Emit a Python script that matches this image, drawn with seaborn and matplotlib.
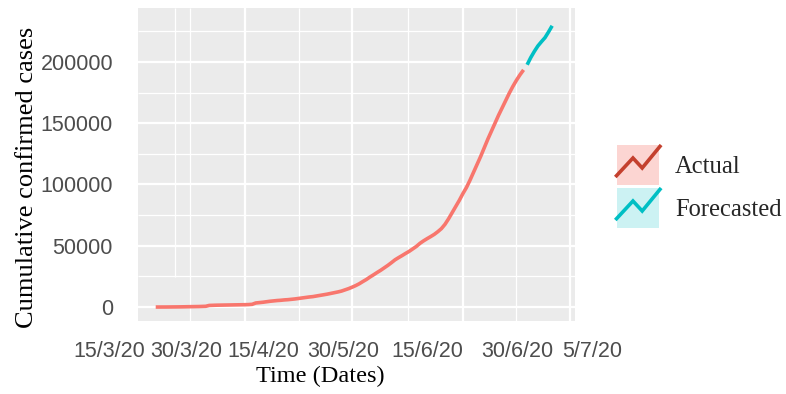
import numpy as np
import pandas as pd
import matplotlib
matplotlib.use("Agg")
import matplotlib.pyplot as plt
import matplotlib.dates as mdates
import seaborn as sns
from matplotlib.legend_handler import HandlerBase
from matplotlib.patches import Rectangle
from matplotlib.lines import Line2D
from matplotlib.ticker import FixedLocator, NullFormatter, MultipleLocator, FuncFormatter

# ---------------- data ----------------
actual_start = "2020-03-07"
actual_cases = [
    0, 0, 10, 20, 50, 80, 110, 140, 190, 250,
    300, 350, 400, 500, 600, 1300, 1400, 1500, 1550, 1600,
    1650, 1700, 1750, 1800, 1850, 1900, 2000, 2200, 3300, 3600,
    3900, 4300, 4700, 5000, 5300, 5500, 5800, 6000, 6300, 6600,
    7000, 7400, 7800, 8200, 8500, 9000, 9500, 10000, 10500, 11100,
    11700, 12300, 13000, 14000, 15000, 16200, 17500, 19000, 20800, 22500,
    24500, 26300, 28200, 30000, 32000, 34000, 36200, 38500, 40300, 42000,
    43800, 45500, 47500, 49500, 52000, 54000, 55800, 57500, 59300, 61500,
    64000, 67500, 72000, 77000, 82000, 87000, 92500, 97500, 103500, 110000,
    116500, 123000, 130000, 137000, 143500, 150000, 156500, 162500, 168500, 174500,
    180000, 185000, 189500, 193500,
]
forecast_start = "2020-06-19"
forecast_cases = [197700, 203500, 208500, 213000, 216500, 219800, 224500, 229500]

series_names = ["Actual", "Forecasted"]
x_tick_dates = ["2020-04-01", "2020-05-01", "2020-06-01", "2020-07-01"]
x_labels = ["15/3/20", "30/3/20", "15/4/20", "30/5/20", "15/6/20", "30/6/20", "5/7/20"]
y_ticks = [0, 50000, 100000, 150000, 200000]
x_title = "Time (Dates)"
y_title = "Cumulative confirmed cases"

# layout (days relative to 1 Apr 2020 where the x label texts sit)
label_day_offsets = [-38.1, -16.5, 5.0, 27.4, 51.0, 76.2, 97.2]

df = pd.concat([
    pd.DataFrame({"date": pd.date_range(actual_start, periods=len(actual_cases), freq="D"),
                  "cases": actual_cases, "type": series_names[0]}),
    pd.DataFrame({"date": pd.date_range(forecast_start, periods=len(forecast_cases), freq="D"),
                  "cases": forecast_cases, "type": series_names[1]}),
], ignore_index=True)

# ---------------- style ----------------
sns.set_style("white")
plt.rcParams["lines.solid_capstyle"] = "butt"
SERIF = ["Liberation Serif", "DejaVu Serif"]
SANS = ["Liberation Sans", "DejaVu Sans"]
plt.rcParams["font.family"] = SANS

C_ACT = "#F8766D"
C_FOR = "#00BFC4"

fig = plt.figure(figsize=(7.86, 3.94), dpi=100)
ax = fig.add_axes([138 / 786, 73 / 394, 437 / 786, 313 / 394])
ax.set_facecolor("#EBEBEB")
for s in ax.spines.values():
    s.set_visible(False)

sns.lineplot(data=df, x="date", y="cases", hue="type",
             palette={series_names[0]: C_ACT, series_names[1]: C_FOR},
             estimator=None, linewidth=2.6, legend=False, ax=ax, zorder=3)

base = pd.Timestamp("2020-04-01")
b = mdates.date2num(base)
ax.set_xlim(b - 29.96, b + 92.4)
ax.set_ylim(-11400, 244000)

# x ticks (marks only) + major grid
xt = [mdates.date2num(pd.Timestamp(d)) for d in x_tick_dates]
ax.xaxis.set_major_locator(FixedLocator(xt))
ax.xaxis.set_major_formatter(NullFormatter())
ax.xaxis.set_minor_locator(FixedLocator([]))
# minor vertical grid lines midway between month starts
months = pd.date_range("2020-03-01", "2020-07-01", freq="MS")
mn = mdates.date2num(months)
for m in (mn[:-1] + mn[1:]) / 2:
    ax.axvline(m, color="white", lw=0.9, zorder=0.6)
# small stray segment seen in the reference
ax.axvline(b - 19.6, ymin=0.14, ymax=1, color="white", lw=0.9, zorder=0.6)

ax.yaxis.set_major_locator(FixedLocator(y_ticks))
ax.yaxis.set_minor_locator(MultipleLocator(25000))
ax.yaxis.set_major_formatter(FuncFormatter(lambda v, p: f"{int(round(v))}"))
ax.set_axisbelow(True)
ax.grid(which="major", color="white", lw=1.6)
ax.grid(which="minor", axis="y", color="white", lw=0.9)
ax.tick_params(which="major", length=5, width=1.1, color="#333333",
               labelcolor="#4D4D4D", labelsize=15.5, pad=13)
ax.tick_params(which="minor", length=0)

# x tick label texts
xf = ax.get_xaxis_transform()
for off, lab in zip(label_day_offsets, x_labels):
    ax.text(b + off, -36 / 313, lab, transform=xf, ha="center", va="baseline",
            fontsize=15.5, color="#4D4D4D", family=SANS, clip_on=False)

ax.set_xlabel(x_title, family=SERIF, fontsize=17.5, color="black")
ax.set_ylabel(y_title, family=SERIF, fontsize=19, color="black")
ax.xaxis.set_label_coords((320 - 138) / 437, (321 - 376) / 313)
ax.xaxis.label.set_va("center")
ax.yaxis.set_label_coords((27 - 138) / 437, (321 - 177.5) / 313)
ax.yaxis.label.set_va("center")


# ---------------- legend ----------------
class ZigzagKey(HandlerBase):
    def __init__(self, fill, alpha, line_color):
        super().__init__()
        self.fill, self.alpha, self.line_color = fill, alpha, line_color

    def create_artists(self, legend, orig_handle, xdescent, ydescent,
                       width, height, fontsize, trans):
        r = Rectangle((-xdescent, -ydescent), width, height, facecolor=self.fill,
                      alpha=self.alpha, edgecolor="none", transform=trans)
        xs = np.array([-0.04, 0.38, 0.6, 1.05]) * width - xdescent
        ys = np.array([0.2, 0.675, 0.425, 1.0]) * height - ydescent
        ln = Line2D(xs, ys, color=self.line_color, lw=2.6, transform=trans,
                    solid_capstyle="butt", solid_joinstyle="miter")
        return [r, ln]


h1, h2 = Line2D([], []), Line2D([], [])
fs = 17.7
fpx = fs * 100 / 72
hh = (40 / fpx - 0.245) / 0.65
fig.legend([h1, h2], series_names, loc="upper left",
           bbox_to_anchor=(617 / 786, 1 - 145 / 394), frameon=False, borderpad=0,
           borderaxespad=0, handlelength=42 / fpx, handleheight=hh,
           labelspacing=3 / fpx, handletextpad=16 / fpx,
           prop={"family": SERIF, "size": fs},
           handler_map={h1: ZigzagKey(C_ACT, 0.3, "#C4402E"),
                        h2: ZigzagKey(C_FOR, 0.2, C_FOR)})

fig.savefig("out.png", dpi=100, facecolor="white")
